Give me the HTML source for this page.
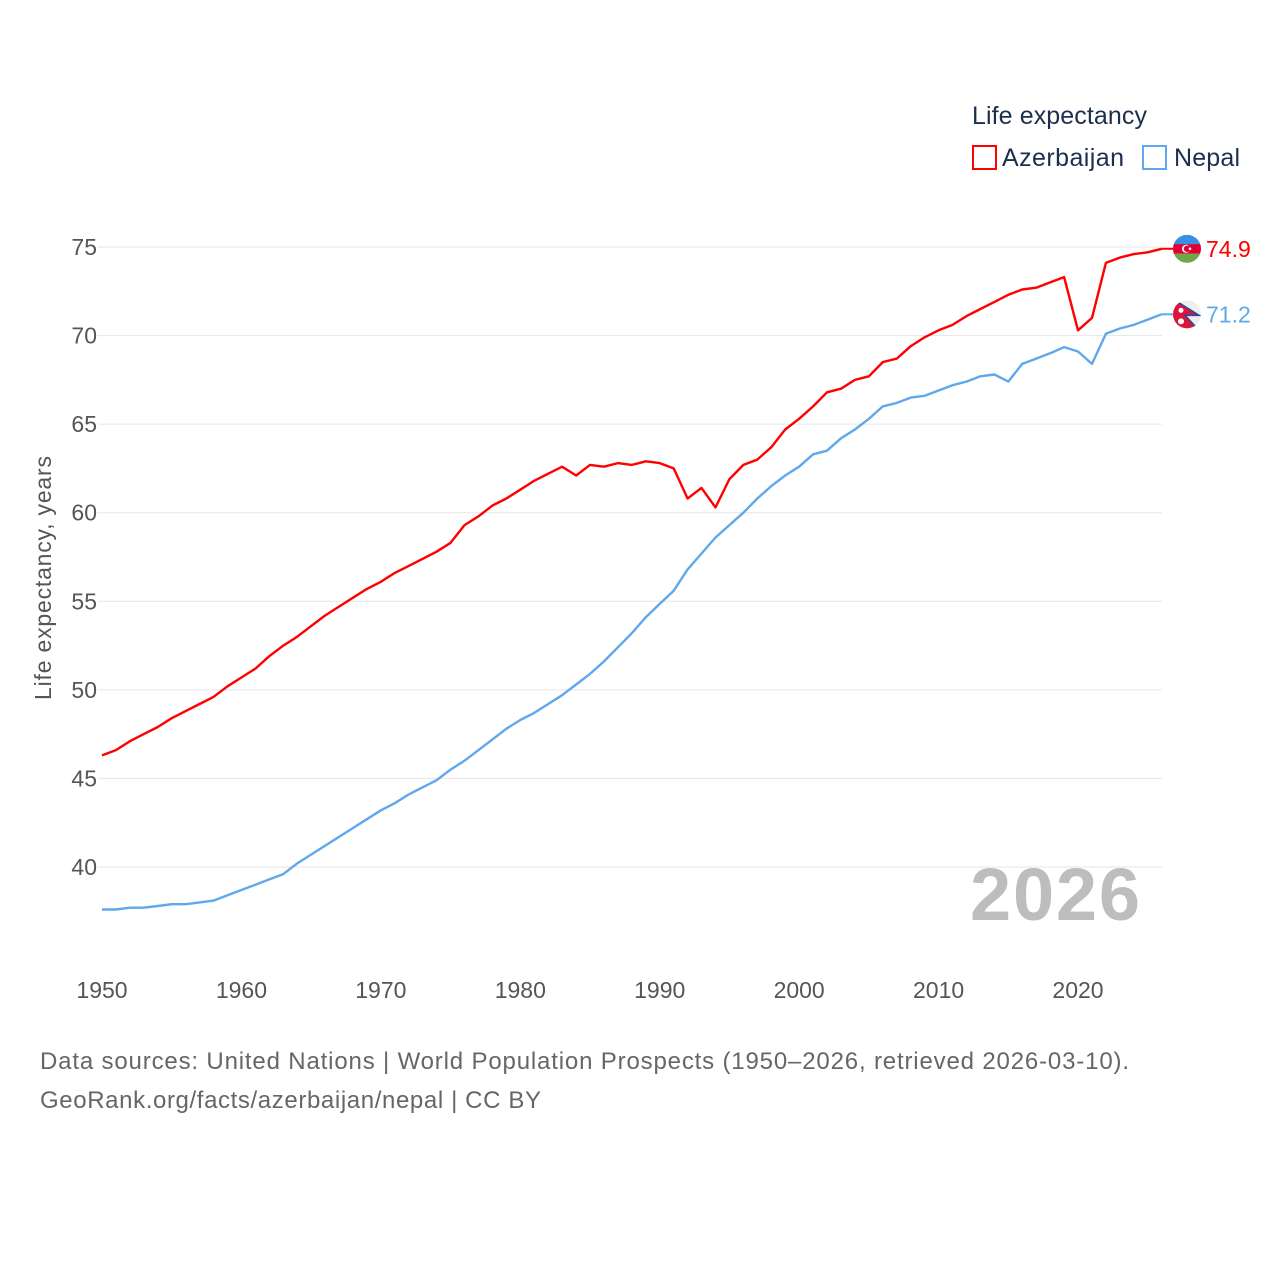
<!DOCTYPE html>
<html><head><meta charset="utf-8">
<style>
body{margin:0;background:#fff;}
svg{display:block;font-family:"Liberation Sans",sans-serif;}
</style></head>
<body>
<svg id="chart" width="1280" height="1280" viewBox="0 0 1280 1280">
  <defs>
    <clipPath id="ca"><circle id="caC" cx="1187" cy="248" r="14"/></clipPath>
    <clipPath id="cn"><circle id="cnC" cx="1187" cy="313" r="14"/></clipPath>
  </defs>
  <g id="grid"></g>
  <g id="yticks"></g>
  <g id="xticks"></g>
  <text transform="translate(51,578) rotate(-90)" text-anchor="middle" font-size="23" fill="#555" textLength="244">Life expectancy, years</text>
  <text x="1140" y="920" text-anchor="end" font-size="74" font-weight="bold" fill="#bdbdbd" textLength="170">2026</text>
  <g id="series"></g>
  <g>
    <text x="972" y="124" font-size="25" fill="#1b2f4e" textLength="175">Life expectancy</text>
    <rect x="973" y="146" width="23" height="23" fill="none" stroke="#ff0000" stroke-width="2"/>
    <text x="1002" y="166" font-size="25" fill="#1b2f4e" textLength="122">Azerbaijan</text>
    <rect x="1143" y="146" width="23" height="23" fill="none" stroke="#5fa8ec" stroke-width="2"/>
    <text x="1174" y="166" font-size="25" fill="#1b2f4e" textLength="66">Nepal</text>
  </g>
  <g id="endlabels"></g>
  <text x="40" y="1069" font-size="24" fill="#666" textLength="1089">Data sources: United Nations | World Population Prospects (1950–2026, retrieved 2026-03-10).</text>
  <text x="40" y="1108" font-size="24" fill="#666" textLength="501">GeoRank.org/facts/azerbaijan/nepal | CC BY</text>
</svg>
<script>
const years = [];
for (let y = 1950; y <= 2026; y++) years.push(y);
const azerbaijan = [46.3,46.6,47.1,47.5,47.9,48.4,48.8,49.2,49.6,50.2,50.7,51.2,51.9,52.5,53.0,53.6,54.2,54.7,55.2,55.7,56.1,56.6,57.0,57.4,57.8,58.3,59.3,59.8,60.4,60.8,61.3,61.8,62.2,62.6,62.1,62.7,62.6,62.8,62.7,62.9,62.8,62.5,60.8,61.4,60.3,61.9,62.7,63.0,63.7,64.7,65.3,66.0,66.8,67.0,67.5,67.7,68.5,68.7,69.4,69.9,70.3,70.6,71.1,71.5,71.9,72.3,72.6,72.7,73.0,73.3,70.3,71.0,74.1,74.4,74.6,74.7,74.9];
const nepal = [37.6,37.6,37.7,37.7,37.8,37.9,37.9,38.0,38.1,38.4,38.7,39.0,39.3,39.6,40.2,40.7,41.2,41.7,42.2,42.7,43.2,43.6,44.1,44.5,44.9,45.5,46.0,46.6,47.2,47.8,48.3,48.7,49.2,49.7,50.3,50.9,51.6,52.4,53.2,54.1,54.85,55.6,56.8,57.7,58.6,59.3,60.0,60.8,61.5,62.1,62.6,63.3,63.5,64.2,64.7,65.3,66.0,66.2,66.5,66.6,66.9,67.2,67.4,67.7,67.8,67.4,68.4,68.7,69.0,69.35,69.1,68.4,70.1,70.4,70.6,70.9,71.2];
const yTicks = [40,45,50,55,60,65,70,75];
const xTicks = [1950,1960,1970,1980,1990,2000,2010,2020];

const NS = "http://www.w3.org/2000/svg";
function xs(yr){ return 102 + (yr-1950)*13.943; }
function ys(v){ return 247 + (75-v)*17.714; }
function mk(tag, attrs, parent){ const e=document.createElementNS(NS,tag); for(const k in attrs) e.setAttribute(k,attrs[k]); parent.appendChild(e); return e; }

const grid=document.getElementById('grid'), yt=document.getElementById('yticks'), xt=document.getElementById('xticks');
yTicks.forEach(v=>{
  const l=mk('line',{x1:98,x2:1162,y1:ys(v),y2:ys(v),stroke:'#e6e6e6','stroke-width':1},grid);
  
  
  const t=mk('text',{x:97,y:ys(v)+8,'text-anchor':'end','font-size':23,fill:'#555'},yt);
  t.textContent=v;
  
  
});
xTicks.forEach(v=>{
  const t=mk('text',{x:xs(v),y:998,'text-anchor':'middle','font-size':23,fill:'#555'},xt);
  t.textContent=v;
  
  
});
const ser=document.getElementById('series');
function line(vals,color,name){
  const d=vals.map((v,i)=>(i?'L':'M')+xs(years[i]).toFixed(1)+','+ys(v).toFixed(1)).join(' ');
  const p=mk('path',{d:d,fill:'none',stroke:color,'stroke-width':2.4,'stroke-linejoin':'round'},ser);
  
  
}
line(nepal,'#5fa8ec','line-nepal');
line(azerbaijan,'#ff0000','line-azerbaijan');

const el=document.getElementById('endlabels');
const aLast=azerbaijan[azerbaijan.length-1], nLast=nepal[nepal.length-1];
const cx=1187;
let ay=ys(aLast);
document.getElementById('caC').setAttribute('cy',ay);
mk('line',{x1:xs(2026),x2:cx-14,y1:ay,y2:ay,stroke:'#ff0000','stroke-width':2},el);
const af=mk('g',{'clip-path':'url(#ca)'},el);


mk('rect',{x:cx-14,y:ay-14,width:28,height:10,fill:'#3b8fe0'},af);
mk('rect',{x:cx-14,y:ay-4.5,width:28,height:9.5,fill:'#e00034'},af);
mk('rect',{x:cx-14,y:ay+5,width:28,height:10,fill:'#6fa648'},af);
mk('circle',{cx:cx-1,cy:ay,r:4,fill:'#fff'},af);
mk('circle',{cx:cx,cy:ay,r:3.2,fill:'#e00034'},af);
mk('circle',{cx:cx+3,cy:ay,r:1.3,fill:'#fff'},af);
let ta=mk('text',{x:1206,y:ay+8,'font-size':23,fill:'#ff0000'},el);
ta.textContent=aLast.toFixed(1);


let ny=ys(nLast);
document.getElementById('cnC').setAttribute('cy',ny);
mk('line',{x1:xs(2026),x2:cx-14,y1:ny,y2:ny,stroke:'#5fa8ec','stroke-width':2},el);
const nf=mk('g',{'clip-path':'url(#cn)'},el);


mk('rect',{x:cx-14,y:ny-14,width:28,height:28,fill:'#eeeeee'},nf);
mk('path',{d:`M${cx-15},${ny-16} L${cx+12},${ny+1} L${cx-2},${ny+1} L${cx+12},${ny+16} L${cx-15},${ny+16} Z`,fill:'#dc143c',stroke:'#1e4fa0','stroke-width':1.5},nf);
mk('circle',{cx:cx-6,cy:ny-4,r:2.5,fill:'#fff'},nf);
mk('circle',{cx:cx-6,cy:ny+7,r:3,fill:'#fff'},nf);
let tn=mk('text',{x:1206,y:ny+8,'font-size':23,fill:'#5fa8ec'},el);
tn.textContent=nLast.toFixed(1);


</script>
</body></html>
